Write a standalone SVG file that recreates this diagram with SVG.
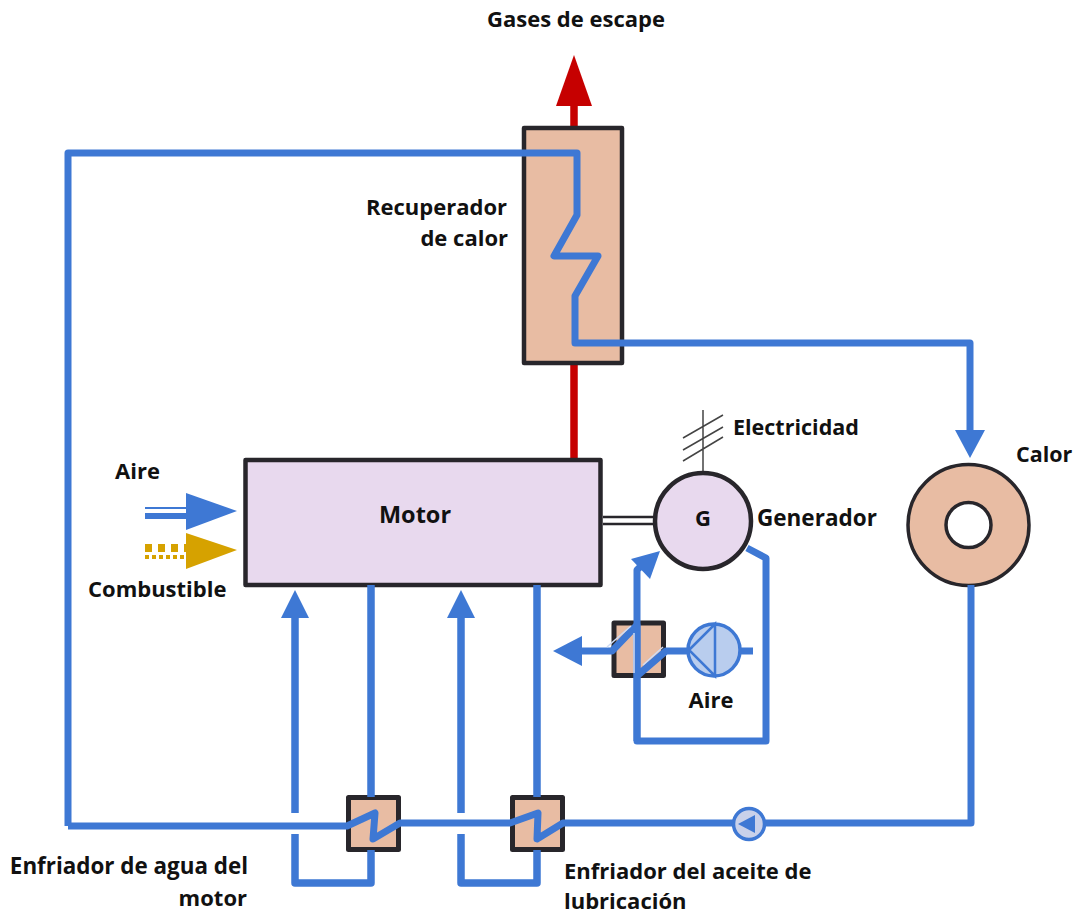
<svg xmlns="http://www.w3.org/2000/svg" width="1076" height="916" viewBox="0 0 1076 916">
<style>
text{font-family:"Open Sans","Noto Sans","Liberation Sans",sans-serif;font-weight:700;font-size:22px;fill:#111}
.box{stroke:#28262b;stroke-width:4.5;stroke-linejoin:round}
.small{stroke-width:5}
.heat{fill:#e8bca3}
.lil{fill:#e8d9ee}
.w{fill:none;stroke:#3e78d4;stroke-width:7;stroke-linejoin:round;stroke-linecap:butt}
.t{stroke-width:7.5}
.a{fill:#3e78d4}
.red{stroke:#c60000;stroke-width:7.5;fill:none}
.el{stroke:#444;stroke-width:1.5;fill:none}
.hl{stroke:#cfdcf5;stroke-width:1.5;fill:none}
</style>
<rect width="1076" height="916" fill="#fff"/>
<g id="connectors-back">
<path class="red" d="M574 460V363M574 128V100"/>
<polygon points="574,55 556,106 592,106" fill="#c60000"/>
<path d="M603 517H654M603 524H654" stroke="#28262b" stroke-width="2.5" fill="none"/>
<path class="el" d="M703 410V472M683 438L723 415M683 450L723 427M683 461L723 437"/>
</g>
<g id="recuperador"><rect class="box heat" x="524" y="128" width="98" height="235"/><text x="507" y="215" text-anchor="end">Recuperador</text><text x="508" y="246" text-anchor="end">de calor</text></g>
<g id="motor"><rect class="box lil" x="245.500" y="460" width="355" height="125"/><text x="415" y="523" text-anchor="middle" style="font-size:23.500px">Motor</text></g>
<g id="generador"><circle class="box lil" cx="703" cy="521" r="48"/><text x="703" y="526" text-anchor="middle" style="font-size:22px">G</text><text x="757" y="526" style="font-size:22.500px">Generador</text></g>
<g id="calor"><circle class="box heat" cx="968.500" cy="525" r="60.500" style="stroke-width:3.500"/><circle cx="968.500" cy="525" r="22.500" fill="#fff" stroke="#28262b" stroke-width="3.500"/><text x="1016" y="462" style="font-size:21.500px">Calor</text></g>
<g id="enfriador-agua"><rect class="box small heat" x="348.500" y="797.500" width="50" height="52"/></g>
<g id="enfriador-aceite"><rect class="box small heat" x="512.500" y="797.500" width="50" height="52"/></g>
<g id="enfriador-aire"><rect class="box small heat" x="614" y="623" width="49.500" height="52.500"/></g>
<g id="connectors">
<path class="w" d="M68 826V153H577V215L554 256H598L575 296V343H970V432"/>
<polygon class="a" points="970,458 955,430 985,430"/>
<path class="w" d="M68 826H347L375 813L373 839L400 823H510L538 813L537 839L563 823H971V585"/>
<path class="w t" d="M295 617V813M295 834V883H371V850M371 585V797"/>
<path class="w t" d="M461 617V813M461 834V883H537V850M537 585V797"/>
<polygon class="a" points="295,590 281,618 309,618"/>
<polygon class="a" points="461,590 447,618 475,618"/>
<path class="w" d="M747 548L766 558V741H637V570L648 559"/>
<polygon class="a" points="660,551 631,559 650,579"/>
<path class="w" d="M753 651H666L638 675M637 741V625L612 651H582"/>
<polygon class="a" points="553,651 582,636 582,666"/>
<path class="hl" d="M607 647L631 626M643 665L663 647M634 633V673"/>
<path d="M145 508H186" stroke="#3e78d4" stroke-width="2" fill="none"/>
<path d="M145 516H186" stroke="#3e78d4" stroke-width="6" fill="none"/>
<polygon class="a" points="237,511 186,493 186,530"/>
<path d="M145 548H186" stroke="#d6a200" stroke-width="8" stroke-dasharray="7 6" fill="none"/>
<path d="M145 557H186" stroke="#d6a200" stroke-width="4" stroke-dasharray="4 3" fill="none"/>
<polygon points="237,550 186,533 186,569" fill="#d6a200"/>
</g>
<g id="bomba-aire"><circle cx="714" cy="650" r="26" fill="#b9cdee" stroke="#3e78d4" stroke-width="3.500"/><path d="M689 650L715 624V676Z" fill="none" stroke="#3e78d4" stroke-width="2.500"/></g>
<g id="bomba-agua"><circle cx="749" cy="824" r="15.500" fill="#c9d1ea" stroke="#3e78d4" stroke-width="3.500"/><path d="M738 824L755 815V833Z" fill="#3e78d4"/></g>
<g id="labels">
<text x="576" y="27" text-anchor="middle">Gases de escape</text>
<text x="733" y="435" style="font-size:21.500px">Electricidad</text>
<text x="115" y="479">Aire</text>
<text x="88" y="597">Combustible</text>
<text x="711" y="708" text-anchor="middle">Aire</text>
<text x="248" y="874" text-anchor="end" style="font-size:22.400px">Enfriador de agua del</text>
<text x="247" y="906" text-anchor="end">motor</text>
<text x="564" y="879">Enfriador del aceite de</text>
<text x="564" y="909">lubricación</text>
</g>
</svg>
